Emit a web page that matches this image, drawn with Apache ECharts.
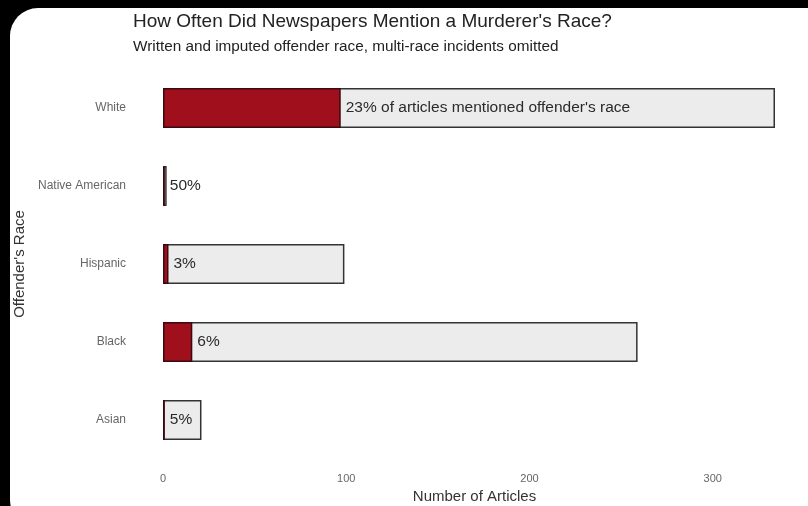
<!DOCTYPE html>
<html>
<head>
<meta charset="utf-8">
<script src="https://cdn.jsdelivr.net/npm/echarts@6/dist/echarts.min.js"></script>
<style>
html,body{margin:0;padding:0;background:#000;width:808px;height:506px;overflow:hidden;}
#bg{position:absolute;left:10px;top:8px;width:830px;height:520px;background:#fff;border-radius:28px;}
#chart{position:absolute;left:0;top:0;width:808px;height:506px;}
</style>
</head>
<body>
<div id="bg"></div>
<div id="chart"></div>
<script>
const categories = ['Asian', 'Black', 'Hispanic', 'Native American', 'White'];
const totalArticles = [21, 259, 99, 2, 334];
const mentionedArticles = [1, 16, 3, 1, 97];
const pctLabels = ['5%', '6%', '3%', '50%', "23% of articles mentioned offender's race"];
const xTicks = [0, 100, 200, 300];

const chart = echarts.init(document.getElementById('chart'), null, {renderer: 'canvas'});
const font = 'Liberation Sans, Arial, sans-serif';
chart.setOption({
  backgroundColor: 'transparent',
  animation: false,
  title: [
    {text: "How Often Did Newspapers Mention a Murderer's Race?", left: 128, top: 7,
     textStyle: {fontFamily: font, fontSize: 19, fontWeight: 'normal', color: '#222'}},
    {text: 'Written and imputed offender race, multi-race incidents omitted', left: 128, top: 34,
     textStyle: {fontFamily: font, fontSize: 15.3, fontWeight: 'normal', color: '#222'}}
  ],
  grid: {left: 163, top: 69, right: 22, height: 390, outerBoundsMode: 'none', containLabel: false},
  xAxis: {
    type: 'value', min: 0, max: 340, interval: 100,
    name: 'Number of Articles', nameLocation: 'middle', nameGap: 26,
    nameTextStyle: {fontFamily: font, fontSize: 15, color: '#333'},
    axisLine: {show: false}, axisTick: {show: false}, splitLine: {show: false},
    axisLabel: {fontFamily: font, fontSize: 11, color: '#666', margin: 14, showMaxLabel: false,
      formatter: v => xTicks.includes(v) ? String(v) : ''}
  },
  yAxis: {
    type: 'category', data: categories,
    name: "Offender's Race", nameLocation: 'middle', nameGap: 134, nameRotate: 90,
    nameTextStyle: {fontFamily: font, fontSize: 15, color: '#333'},
    axisLine: {show: false}, axisTick: {show: false},
    axisLabel: {fontFamily: font, fontSize: 12, color: '#666', margin: 37}
  },
  series: [
    {type: 'bar', data: totalArticles, barWidth: 40, z: 2,
     itemStyle: {color: '#ececec', borderColor: '#333', borderWidth: 1.5}},
    {type: 'bar', data: mentionedArticles, barWidth: 40, barGap: '-100%', z: 3,
     itemStyle: {color: '#a00f1c', borderColor: '#3a0a10', borderWidth: 1.5},
     label: {show: true, position: 'right', distance: 5, fontFamily: font, fontSize: 15.5, color: '#2a2a2a',
       formatter: p => pctLabels[p.dataIndex]}}
  ]
});
</script>
</body>
</html>
